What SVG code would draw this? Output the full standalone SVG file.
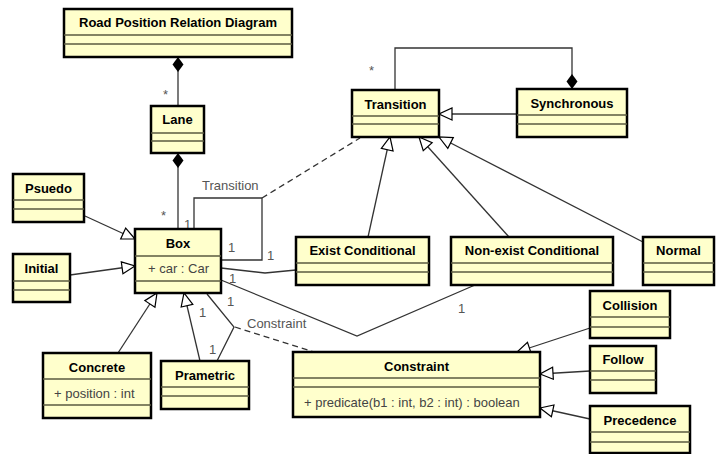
<svg xmlns="http://www.w3.org/2000/svg" width="723" height="454" viewBox="0 0 723 454">
<style>
.box{fill:#FFFFCC;stroke:#000;stroke-width:2.5}
.div{stroke:#5a5a40;stroke-width:1.3}
.nm{font-family:"Liberation Sans",Arial,sans-serif;font-size:13px;font-weight:bold;fill:#000;text-anchor:middle}
.at{font-family:"Liberation Sans",Arial,sans-serif;font-size:13px;fill:#444}
.lb{font-family:"Liberation Sans",Arial,sans-serif;font-size:13px;fill:#555}
.ln{fill:none;stroke:#333;stroke-width:1.3}
.dash{fill:none;stroke:#333;stroke-width:1.3;stroke-dasharray:6 4}
</style>
<defs>
<marker id="dia" markerWidth="17" markerHeight="13" refX="16" refY="6.5" orient="auto" markerUnits="userSpaceOnUse"><path d="M1 6.5 L8.5 1 L16 6.5 L8.5 12 Z" fill="#000"/></marker>
<marker id="gen" markerWidth="16" markerHeight="15" refX="14.5" refY="7.5" orient="auto" markerUnits="userSpaceOnUse"><path d="M1.5 1.5 L14.5 7.5 L1.5 13.5 Z" fill="#fff" stroke="#000" stroke-width="1.2"/></marker>
</defs>
<g id="connectors">
<path class="ln" d="M178 106 V57" marker-end="url(#dia)"/>
<path class="ln" d="M178 229 V153" marker-end="url(#dia)"/>
<path class="ln" d="M395 90 V48 H572 V89" marker-end="url(#dia)"/>
<path class="ln" d="M517 114 H439" marker-end="url(#gen)"/>
<path class="ln" d="M368 237 L390 137" marker-end="url(#gen)"/>
<path class="ln" d="M509 237 L419 137" marker-end="url(#gen)"/>
<path class="ln" d="M643 242 L439 137" marker-end="url(#gen)"/>
<path class="ln" d="M85 216 L135 239" marker-end="url(#gen)"/>
<path class="ln" d="M70 275 L135 266" marker-end="url(#gen)"/>
<path class="ln" d="M118 353 L157 293" marker-end="url(#gen)"/>
<path class="ln" d="M200 361 L184 293" marker-end="url(#gen)"/>
<path class="ln" d="M590 328 L517 352" marker-end="url(#gen)"/>
<path class="ln" d="M590 371 L540 374" marker-end="url(#gen)"/>
<path class="ln" d="M590 419 L540 408" marker-end="url(#gen)"/>
<path class="ln" d="M194 229 V198 H262 V260 H221"/>
<path class="dash" d="M262 198 L360 138"/>
<path class="ln" d="M221 268 L265 273 L296 270"/>
<path class="ln" d="M221 280 L357 336 L475 285"/>
<path class="ln" d="M207 294 L234 327 L217 361"/>
<path class="dash" d="M235 327 L314 352"/>
<text class="lb" x="202" y="190">Transition</text>
<text class="lb" x="247" y="328">Constraint</text>
<text class="lb" x="163" y="99">*</text>
<text class="lb" x="161" y="220">*</text>
<text class="lb" x="369" y="75">*</text>
<text class="lb" x="184" y="229">1</text>
<text class="lb" x="228" y="252">1</text>
<text class="lb" x="267" y="260">1</text>
<text class="lb" x="229" y="283">1</text>
<text class="lb" x="227" y="306">1</text>
<text class="lb" x="199" y="317">1</text>
<text class="lb" x="209" y="354">1</text>
<text class="lb" x="458" y="313">1</text>
</g>
<g id="road"><rect class="box" x="64" y="9" width="228" height="48"/><line class="div" x1="64" y1="35" x2="292" y2="35"/><line class="div" x1="64" y1="44" x2="292" y2="44"/><text class="nm" x="178" y="27">Road Position Relation Diagram</text></g>
<g id="lane"><rect class="box" x="151" y="106" width="53" height="47"/><line class="div" x1="151" y1="133" x2="204" y2="133"/><line class="div" x1="151" y1="141" x2="204" y2="141"/><text class="nm" x="177.5" y="124">Lane</text></g>
<g id="transition"><rect class="box" x="352" y="90" width="87" height="47"/><line class="div" x1="352" y1="116" x2="439" y2="116"/><line class="div" x1="352" y1="124" x2="439" y2="124"/><text class="nm" x="395.5" y="109">Transition</text></g>
<g id="synchronous"><rect class="box" x="517" y="89" width="110" height="48"/><line class="div" x1="517" y1="115" x2="627" y2="115"/><line class="div" x1="517" y1="124" x2="627" y2="124"/><text class="nm" x="572" y="108">Synchronous</text></g>
<g id="psuedo"><rect class="box" x="13" y="174" width="71" height="48"/><line class="div" x1="13" y1="200" x2="84" y2="200"/><line class="div" x1="13" y1="209" x2="84" y2="209"/><text class="nm" x="48.5" y="193">Psuedo</text></g>
<g id="initial"><rect class="box" x="13" y="254" width="57" height="48"/><line class="div" x1="13" y1="281" x2="70" y2="281"/><line class="div" x1="13" y1="290" x2="70" y2="290"/><text class="nm" x="41.5" y="273">Initial</text></g>
<g id="box"><rect class="box" x="135" y="229" width="86" height="64"/><line class="div" x1="135" y1="256" x2="221" y2="256"/><line class="div" x1="135" y1="281" x2="221" y2="281"/><text class="nm" x="178" y="248">Box</text><text class="at" x="148" y="273">+ car : Car</text></g>
<g id="exist"><rect class="box" x="296" y="237" width="133" height="48"/><line class="div" x1="296" y1="263" x2="429" y2="263"/><line class="div" x1="296" y1="272" x2="429" y2="272"/><text class="nm" x="362.5" y="255">Exist Conditional</text></g>
<g id="nonexist"><rect class="box" x="451" y="237" width="162" height="48"/><line class="div" x1="451" y1="263" x2="613" y2="263"/><line class="div" x1="451" y1="272" x2="613" y2="272"/><text class="nm" x="532" y="255">Non-exist Conditional</text></g>
<g id="normal"><rect class="box" x="643" y="237" width="71" height="48"/><line class="div" x1="643" y1="263" x2="714" y2="263"/><line class="div" x1="643" y1="272" x2="714" y2="272"/><text class="nm" x="678.5" y="255">Normal</text></g>
<g id="concrete"><rect class="box" x="43" y="353" width="108" height="65"/><line class="div" x1="43" y1="379" x2="151" y2="379"/><line class="div" x1="43" y1="405" x2="151" y2="405"/><text class="nm" x="97" y="372">Concrete</text><text class="at" x="54" y="398">+ position : int</text></g>
<g id="prametric"><rect class="box" x="161" y="361" width="88" height="48"/><line class="div" x1="161" y1="387" x2="249" y2="387"/><line class="div" x1="161" y1="396" x2="249" y2="396"/><text class="nm" x="205" y="380">Prametric</text></g>
<g id="constraint"><rect class="box" x="293" y="352" width="247" height="65"/><line class="div" x1="293" y1="378" x2="540" y2="378"/><line class="div" x1="293" y1="387" x2="540" y2="387"/><text class="nm" x="416.5" y="371">Constraint</text><text class="at" x="304" y="407">+ predicate(b1 : int, b2 : int) : boolean</text></g>
<g id="collision"><rect class="box" x="590" y="291" width="80" height="47"/><line class="div" x1="590" y1="317" x2="670" y2="317"/><line class="div" x1="590" y1="327" x2="670" y2="327"/><text class="nm" x="630" y="310">Collision</text></g>
<g id="follow"><rect class="box" x="590" y="346" width="66" height="47"/><line class="div" x1="590" y1="371" x2="656" y2="371"/><line class="div" x1="590" y1="380" x2="656" y2="380"/><text class="nm" x="623" y="364">Follow</text></g>
<g id="precedence"><rect class="box" x="590" y="406" width="100" height="47"/><line class="div" x1="590" y1="432" x2="690" y2="432"/><line class="div" x1="590" y1="442" x2="690" y2="442"/><text class="nm" x="640" y="425">Precedence</text></g>
</svg>
